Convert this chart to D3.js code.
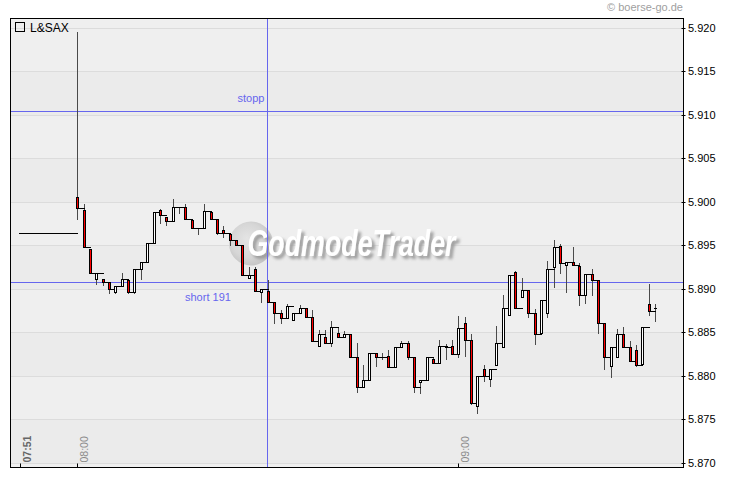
<!DOCTYPE html>
<html><head><meta charset="utf-8">
<script src="https://cdn.jsdelivr.net/npm/d3@7"></script>
<style>body{margin:0;background:#fff}svg{display:block}</style>
</head><body><svg id="c" width="730" height="481"></svg>
<script>
// ---------------- DATA ----------------
const title = "L&SAX";
const source = "© boerse-go.de";
const times = ["07:51","08:00","08:01","08:02","08:03","08:04","08:05","08:06","08:07","08:08","08:09",
"08:10","08:11","08:12","08:13","08:14","08:15","08:16","08:17","08:18","08:19",
"08:20","08:21","08:22","08:23","08:24","08:25","08:26","08:27","08:28","08:29",
"08:30","08:31","08:32","08:33","08:34","08:35","08:36","08:37","08:38","08:39",
"08:40","08:41","08:42","08:43","08:44","08:45","08:46","08:47","08:48","08:49",
"08:50","08:51","08:52","08:53","08:54","08:55","08:56","08:57","08:58","08:59",
"09:00","09:01","09:02","09:03","09:04","09:05","09:06","09:07","09:08","09:09",
"09:10","09:11","09:12","09:13","09:14","09:15","09:16","09:17","09:18","09:19",
"09:20","09:21","09:22","09:23","09:24","09:25","09:26","09:27","09:28","09:29",
"09:30","09:31"];
const open = [5.8965,5.9006,5.8991,5.8946,5.8912,5.8912,5.8908,5.8897,5.8904,5.8910,5.8897,
5.8923,5.8931,5.8953,5.8991,5.8983,5.8978,5.8995,5.8995,5.8980,5.8970,
5.8970,5.8989,5.8981,5.8968,5.8963,5.8957,5.8951,5.8913,5.8923,5.8897,
5.8898,5.8885,5.8872,5.8867,5.8865,5.8872,5.8878,5.8868,5.8835,5.8845,
5.8838,5.8850,5.8845,5.8848,5.8822,5.8787,5.8795,5.8827,5.8822,5.8823,
5.8810,5.8834,5.8838,5.8822,5.8793,5.8795,5.8820,5.8815,5.8835,5.8835,
5.8825,5.8861,5.8842,5.8765,5.8808,5.8797,5.8813,5.8833,5.8870,5.8920,
5.8891,5.8899,5.8872,5.8850,5.8872,5.8925,5.8950,5.8928,5.8931,5.8927,
5.8893,5.8917,5.8911,5.8861,5.8812,5.8822,5.8848,5.8833,5.8830,5.8814,
5.8883,5.8878];
const high = [5.8965,5.9196,5.8998,5.8946,5.8918,5.8912,5.8908,5.8904,5.8919,5.8910,5.8923,
5.8931,5.8953,5.8989,5.8992,5.8983,5.9004,5.8995,5.8998,5.8981,5.8970,
5.8998,5.8990,5.8981,5.8973,5.8963,5.8957,5.8951,5.8926,5.8926,5.8900,
5.8910,5.8885,5.8876,5.8883,5.8872,5.8882,5.8878,5.8876,5.8853,5.8853,
5.8863,5.8856,5.8852,5.8848,5.8838,5.8813,5.8827,5.8827,5.8827,5.8830,
5.8834,5.8840,5.8840,5.8822,5.8795,5.8822,5.8822,5.8841,5.8837,5.8842,
5.8869,5.8868,5.8848,5.8800,5.8813,5.8808,5.8858,5.8893,5.8916,5.8921,
5.8913,5.8899,5.8877,5.8888,5.8932,5.8956,5.8952,5.8931,5.8948,5.8930,
5.8917,5.8923,5.8911,5.8861,5.8834,5.8854,5.8856,5.8840,5.8836,5.8857,
5.8906,5.8883];
const low = [5.8965,5.8981,5.8948,5.8918,5.8906,5.8905,5.8895,5.8895,5.8904,5.8895,5.8895,
5.8912,5.8931,5.8953,5.8976,5.8974,5.8978,5.8988,5.8981,5.8970,5.8963,
5.8970,5.8981,5.8963,5.8960,5.8951,5.8951,5.8916,5.8913,5.8898,5.8885,
5.8885,5.8861,5.8861,5.8867,5.8865,5.8872,5.8868,5.8840,5.8835,5.8838,
5.8835,5.8845,5.8845,5.8822,5.8782,5.8787,5.8795,5.8812,5.8820,5.8810,
5.8810,5.8834,5.8820,5.8782,5.8780,5.8795,5.8815,5.8815,5.8820,5.8825,
5.8822,5.8823,5.8768,5.8757,5.8794,5.8788,5.8813,5.8833,5.8870,5.8878,
5.8891,5.8868,5.8837,5.8850,5.8868,5.8903,5.8918,5.8897,5.8928,5.8882,
5.8884,5.8893,5.8850,5.8808,5.8799,5.8822,5.8833,5.8817,5.8811,5.8814,
5.8870,5.8863];
const close = [5.8965,5.8993,5.8948,5.8918,5.8918,5.8908,5.8900,5.8904,5.8912,5.8897,5.8923,
5.8931,5.8953,5.8989,5.8985,5.8978,5.8995,5.8995,5.8981,5.8970,5.8970,
5.8990,5.8981,5.8965,5.8964,5.8956,5.8951,5.8916,5.8916,5.8898,5.8900,
5.8885,5.8872,5.8867,5.8881,5.8872,5.8878,5.8868,5.8840,5.8848,5.8838,
5.8857,5.8845,5.8848,5.8822,5.8787,5.8795,5.8827,5.8822,5.8822,5.8810,
5.8834,5.8838,5.8822,5.8787,5.8795,5.8822,5.8815,5.8835,5.8833,5.8825,
5.8855,5.8841,5.8769,5.8800,5.8800,5.8808,5.8838,5.8878,5.8916,5.8878,
5.8899,5.8872,5.8848,5.8888,5.8923,5.8948,5.8930,5.8931,5.8928,5.8893,
5.8917,5.8911,5.8861,5.8822,5.8834,5.8848,5.8833,5.8817,5.8813,5.8857,
5.8875,5.8878];
const yTicks = [5.870,5.875,5.880,5.885,5.890,5.895,5.900,5.905,5.910,5.915,5.920];
const xTickLabels = ["07:51","08:00","09:00"];
const levels = [{label:"stopp", value:5.9104}, {label:"short 191", value:5.8908}];
const markerTime = "08:30";
const watermark = "GodmodeTrader";

// ---------------- LAYOUT ----------------
const L = 10.5, R = 683.5, T = 18.5, B = 467.5;
const toMin = s => { const [h,m] = s.split(":").map(Number); return h*60+m; };
const x = d3.scaleLinear().domain([469.48, 575.46]).range([L, R]);
const y = d3.scaleLinear().domain([5.870, 5.920]).range([463, 28.3]);
const svg = d3.select("#c");
const FONT = "'Liberation Sans', Arial, Helvetica, sans-serif";

// plot background with alternating bands
svg.append("rect").attr("x", L).attr("y", T).attr("width", R-L).attr("height", B-T).attr("fill", "#efefef");
const bands = yTicks.slice(0, -1).map((v,i)=>({lo:v, hi:yTicks[i+1], i})).filter(b=>b.i%2===0);
svg.append("g").selectAll("rect").data(bands).join("rect")
  .attr("x", L).attr("width", R-L)
  .attr("y", b=>Math.floor(y(b.hi))+1).attr("height", b=>Math.floor(y(b.lo))-Math.floor(y(b.hi)))
  .attr("fill", "#ebebeb");

// gridlines
svg.append("g").selectAll("line").data(yTicks).join("line")
  .attr("x1", L).attr("x2", R)
  .attr("y1", v=>Math.floor(y(v))+0.5).attr("y2", v=>Math.floor(y(v))+0.5)
  .attr("stroke", "#dcdcdc");

// watermark
const defs = svg.append("defs");
const rg = defs.append("radialGradient").attr("id","ball").attr("cx","45%").attr("cy","45%").attr("r","55%").attr("fx","40%").attr("fy","38%");
rg.append("stop").attr("offset","0%").attr("stop-color","#e4e4e4");
rg.append("stop").attr("offset","70%").attr("stop-color","#d6d6d6");
rg.append("stop").attr("offset","100%").attr("stop-color","#c6c6c6");
const f = defs.append("filter").attr("id","shadow").attr("x","-10%").attr("y","-30%").attr("width","120%").attr("height","170%");
f.append("feGaussianBlur").attr("in","SourceAlpha").attr("stdDeviation",1.4).attr("result","b");
f.append("feOffset").attr("in","b").attr("dx",2.5).attr("dy",2.5).attr("result","o");
f.append("feFlood").attr("flood-color","#9a9a9a").attr("result","c");
f.append("feComposite").attr("in","c").attr("in2","o").attr("operator","in").attr("result","s");
const fm = f.append("feMerge");
fm.append("feMergeNode").attr("in","s");
fm.append("feMergeNode").attr("in","SourceGraphic");
svg.append("circle").attr("cx",251).attr("cy",243.5).attr("r",22).attr("fill","url(#ball)");
svg.append("text").attr("x",247.5).attr("y",255.5).attr("textLength",208).attr("lengthAdjust","spacingAndGlyphs")
  .attr("font-family",FONT).attr("font-weight","bold").attr("font-style","italic").attr("font-size",36)
  .attr("fill","#ffffff").attr("filter","url(#shadow)").text(watermark);

// level lines
const BLUE = "#6666ee";
svg.append("g").selectAll("line").data(levels).join("line")
  .attr("x1", L).attr("x2", R)
  .attr("y1", d=>Math.floor(y(d.value))+0.5).attr("y2", d=>Math.floor(y(d.value))+0.5)
  .attr("stroke", BLUE);
const mx = Math.floor(x(toMin(markerTime)))+0.5;
svg.append("line").attr("x1",mx).attr("x2",mx).attr("y1",T).attr("y2",B).attr("stroke",BLUE);
svg.append("text").attr("x", mx-30).attr("y", Math.floor(y(levels[0].value))-9.5)
  .attr("font-family",FONT).attr("font-size",11).attr("fill",BLUE).text(levels[0].label);
svg.append("text").attr("x", 185).attr("y", Math.floor(y(levels[1].value))+18.5)
  .attr("font-family",FONT).attr("font-size",11).attr("fill",BLUE).text(levels[1].label);

// candles
const data = times.map((t,i)=>({t:toMin(t), o:open[i], h:high[i], l:low[i], c:close[i]}));
const px = d => Math.round(x(d.t));
const py = v => Math.round(y(v));
const cg = svg.append("g");
cg.selectAll("line.w").data(data.filter(d=>py(d.l)-py(d.h)>0)).join("line").attr("class","w")
  .attr("x1", d=>px(d)+0.5).attr("x2", d=>px(d)+0.5)
  .attr("y1", d=>py(d.h)).attr("y2", d=>py(d.l)+1)
  .attr("stroke", "#4a4a4a");
const links = data.slice(0,-1).map((d,i)=>({a:d, b:data[i+1]}));
cg.selectAll("line.k").data(links).join("line").attr("class","k")
  .attr("x1", k=>px(k.a)+1).attr("x2", k=>px(k.b)+1)
  .attr("y1", k=>py(k.a.c)+0.5).attr("y2", k=>py(k.a.c)+0.5)
  .attr("stroke", "#000");
const bodies = data.filter(d=>py(Math.min(d.o,d.c))-py(Math.max(d.o,d.c))>=1);
cg.selectAll("rect.b").data(bodies).join("rect").attr("class","b")
  .attr("x", d=>px(d)-0.5).attr("width", 2)
  .attr("y", d=>py(Math.max(d.o,d.c))+0.5)
  .attr("height", d=>py(Math.min(d.o,d.c))-py(Math.max(d.o,d.c)))
  .attr("fill", d=>d.c<d.o ? "#ff0000" : "#ffffff")
  .attr("stroke", "#000");
const dojis = data.filter(d=>py(Math.min(d.o,d.c))-py(Math.max(d.o,d.c))<1);
cg.selectAll("line.d").data(dojis).join("line").attr("class","d")
  .attr("x1", d=>px(d)-1).attr("x2", d=>px(d)+2)
  .attr("y1", d=>py(d.c)+0.5).attr("y2", d=>py(d.c)+0.5)
  .attr("stroke", "#000");

// frame
svg.append("rect").attr("x",L).attr("y",T).attr("width",R-L).attr("height",B-T)
  .attr("fill","none").attr("stroke","#000");

// y axis (right)
const ya = svg.append("g").attr("transform",`translate(${R-2},0)`)
  .call(d3.axisRight(y).tickValues(yTicks).tickFormat(d3.format(".3f")).tickSize(4).tickPadding(2.5));
ya.select(".domain").remove();
ya.selectAll(".tick line").attr("stroke","#000");
ya.selectAll(".tick").attr("transform", v=>`translate(0,${Math.floor(y(v))+0.5})`);
ya.selectAll("text").attr("font-family",FONT).attr("font-size",11).attr("fill","#000");

// x axis ticks & rotated labels
const xg = svg.append("g");
xg.selectAll("line").data(xTickLabels).join("line")
  .attr("x1", s=>Math.floor(x(toMin(s)))+0.5).attr("x2", s=>Math.floor(x(toMin(s)))+0.5)
  .attr("y1", B-4).attr("y2", B).attr("stroke","#000");
xg.selectAll("text").data(xTickLabels).join("text")
  .attr("transform", s=>`translate(${Math.floor(x(toMin(s)))+11},${B-5}) rotate(-90)`)
  .attr("font-family",FONT).attr("font-size",10.5)
  .attr("font-weight",(s,i)=>i===0?"bold":"normal")
  .attr("fill",(s,i)=>i===0?"#666":"#8c8c8c")
  .text(s=>s);

// legend
svg.append("rect").attr("x",15.5).attr("y",22.5).attr("width",9).attr("height",9).attr("fill","none").attr("stroke","#000");
svg.append("text").attr("x",30).attr("y",31.5).attr("font-family",FONT).attr("font-size",12).attr("fill","#000").text(title);

// source
svg.append("text").attr("x",683).attr("y",11).attr("text-anchor","end")
  .attr("font-family",FONT).attr("font-size",11).attr("fill","#a0a0a0").text(source);
</script></body></html>
